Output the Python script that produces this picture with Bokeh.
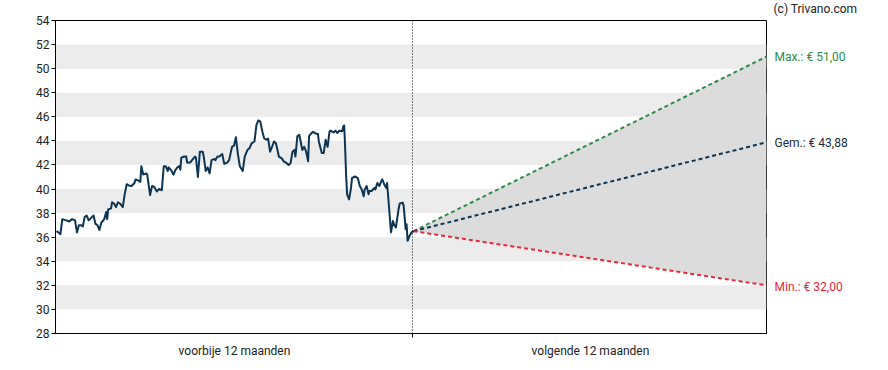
from bokeh.plotting import figure
from bokeh.models import Range1d, FixedTicker, BoxAnnotation, Span, ColumnDataSource, Title
from bokeh.layouts import row
from bokeh.core.properties import value
from bokeh.embed import file_html
from bokeh.resources import INLINE

# ---- data ----
past_days = [0, 2, 4, 6, 10, 13, 16, 19, 21, 23, 25, 27, 29, 31, 33, 38, 40, 42, 44, 46,
             49, 51, 52, 53, 56, 57, 59, 61, 63, 65, 68, 70, 72, 74, 77, 80, 81, 84, 86, 87,
             89, 92, 93, 96, 98, 100, 103, 105, 108, 110, 112, 114, 115, 118, 120, 122, 124, 126, 127, 128,
             131, 133, 134, 137, 139, 142, 143, 145, 147, 150, 151, 153, 155, 157, 159, 162, 163, 165, 167, 170,
             172, 175, 177, 180, 182, 184, 186, 188, 191, 193, 196, 198, 200, 203, 205, 207, 209, 211, 213, 215,
             217, 219, 221, 223, 225, 227, 228, 231, 233, 236, 238, 240, 242, 244, 245, 247, 249, 250, 252, 254,
             256, 258, 259, 261, 263, 266, 268, 269, 272, 274, 276, 278, 280, 281, 284, 286, 288, 290, 293, 294,
             295, 296, 297, 298, 300, 302, 303, 306, 309, 311, 313, 315, 316, 318, 320, 321, 323, 326, 327, 329,
             331, 333, 334, 336, 338, 339, 341, 343, 345, 346, 348, 349, 351, 352, 355, 356, 358, 359, 360, 362,
             364, 366]
past_price = [36.5, 36.4, 36.25, 37.5, 37.4, 37.3, 37.5, 37.4, 36.4, 37.0, 37.0, 36.9, 37.7, 37.8, 37.4, 37.8, 37.1, 37.0, 36.6, 37.2,
              37.5, 38.1, 37.5, 38.3, 38.4, 38.9, 38.8, 38.5, 38.9, 38.8, 38.5, 39.6, 40.4, 40.3, 40.25, 40.5, 40.8, 40.7, 40.6, 41.9,
              41.2, 41.3, 41.2, 39.5, 40.25, 40.2, 39.8, 40.0, 39.9, 41.9, 41.9, 41.5, 41.8, 41.5, 41.2, 41.6, 41.8, 41.9, 41.6, 42.6,
              42.7, 42.7, 42.2, 42.2, 42.4, 42.7, 42.6, 41.0, 43.1, 43.1, 42.7, 41.5, 41.8, 41.3, 42.4, 42.5, 42.4, 42.7, 42.7, 42.9,
              42.1, 42.2, 42.4, 43.5, 43.6, 44.3, 42.9, 41.9, 41.5, 42.7, 43.27, 43.4, 43.8, 43.95, 45.3, 45.7, 45.6, 44.8, 44.2, 44.1,
              44.2, 43.1, 43.5, 43.95, 43.8, 43.1, 42.7, 42.55, 42.3, 42.15, 42.0, 42.15, 43.1, 43.25, 42.7, 44.4, 44.5, 44.1, 43.25, 43.5,
              43.1, 42.3, 44.4, 44.6, 44.75, 44.6, 44.6, 43.95, 43.0, 43.0, 44.1, 43.5, 44.8, 44.85, 44.7, 44.85, 44.65, 44.85, 44.8, 45.2,
              45.28, 43.4, 41.07, 39.56, 39.14, 40.1, 40.9, 41.05, 40.9, 40.25, 39.97, 39.4, 39.97, 40.25, 39.56, 39.84, 39.84, 40.1, 39.97, 40.5,
              40.25, 40.65, 40.8, 40.4, 40.1, 40.5, 38.45, 36.4, 37.35, 37.08, 36.8, 37.35, 38.45, 38.8, 38.87, 38.6, 36.67, 37.08, 35.7, 36.1,
              36.4, 36.5]

today_day = 365
horizon_day = 728
start_price = 36.5
target_max = 51.00
target_avg = 43.88
target_min = 32.00

y_ticks = list(range(28, 55, 2))
band_bottoms = [30, 34, 38, 42, 46, 50]
period_labels = ["voorbije 12 maanden", "volgende 12 maanden"]
period_centers = [182.5, 547.5]
target_texts = ["Max.: € 51,00", "Gem.: € 43,88", "Min.: € 32,00"]
target_values = [target_max, target_avg, target_min]
credit_text = "(c) Trivano.com"

FONT = "Roboto"
NAVY = "#0d3553"
GREEN = "#2f8c4a"
RED = "#e8283c"

H = 360
TOP = 20
BOTTOM = 25
Y0, Y1 = 28, 54
px_per_unit = (H - TOP - BOTTOM) / (Y1 - Y0)

p = figure(width=768, height=H, output_backend="svg", toolbar_location=None,
           x_range=Range1d(-1, horizon_day), y_range=Range1d(Y0, Y1),
           min_border_left=55, min_border_right=2, min_border_top=TOP, min_border_bottom=BOTTOM)
p.background_fill_color = "white"
p.border_fill_color = "white"
p.outline_line_color = "black"
p.outline_line_width = 1
p.xgrid.visible = False
p.ygrid.visible = False

for b in band_bottoms:
    p.add_layout(BoxAnnotation(bottom=b, top=b + 2, fill_color="#ececec", fill_alpha=1.0,
                               line_color=None, level="underlay"))

# forecast fan
p.patch([today_day + 1, horizon_day, horizon_day], [start_price, target_max, target_min],
        fill_color="#dcdcdc", line_color=None)

for tv, col in zip(target_values, [GREEN, NAVY, RED]):
    p.line([today_day + 1, horizon_day], [start_price, tv], line_color=col,
           line_width=2, line_dash="4 3")

p.add_layout(Span(location=today_day, dimension="height", line_color="black",
                  line_width=1, line_dash="1 2"))

p.line(past_days, past_price, line_color=NAVY, line_width=2, line_join="round")

# axes
p.yaxis.ticker = FixedTicker(ticks=y_ticks)
p.yaxis.major_label_text_font = FONT
p.yaxis.major_label_text_font_size = "12px"
p.yaxis.major_label_text_color = "#222222"
p.yaxis.major_tick_out = 4
p.yaxis.major_tick_in = 0
p.yaxis.minor_tick_out = 0
p.yaxis.minor_tick_in = 0
p.yaxis.major_label_standoff = 2
p.yaxis.axis_line_color = "black"

p.xaxis.ticker = FixedTicker(ticks=period_centers, minor_ticks=[today_day])
p.xaxis.major_label_overrides = {period_centers[0]: period_labels[0],
                                 period_centers[1]: period_labels[1]}
p.xaxis.major_label_text_font = FONT
p.xaxis.major_label_text_font_size = "12px"
p.xaxis.major_label_text_color = "#222222"
p.xaxis.major_tick_out = 0
p.xaxis.major_tick_in = 0
p.xaxis.minor_tick_out = 4
p.xaxis.minor_tick_in = 0
p.xaxis.minor_tick_line_color = "black"
p.xaxis.major_label_standoff = 6
p.xaxis.axis_line_color = "black"

# side panel with target labels and credit
unaligned = True
try:
    p.frame_align = False
except Exception:
    unaligned = False

p2 = figure(width=112, height=H, output_backend="svg", toolbar_location=None, title=None,
            x_range=Range1d(0, 112),
            y_range=Range1d(Y0, Y1 + TOP / px_per_unit) if unaligned else Range1d(Y0, Y1),
            min_border_left=0, min_border_right=0,
            min_border_top=0 if unaligned else TOP, min_border_bottom=BOTTOM)
if unaligned:
    p2.frame_align = False
p2.outline_line_color = None
p2.axis.visible = False
p2.grid.visible = False
p2.background_fill_color = "white"
p2.border_fill_color = "white"

src = ColumnDataSource(dict(x=[6, 6, 6], y=target_values, text=target_texts,
                            color=[GREEN, "#1a2a3a", RED]))
p2.text(x="x", y="y", text="text", text_color="color", source=src,
        text_font=value(FONT), text_font_size="12px", text_baseline="middle", text_align="left")
if unaligned:
    p2.text(x=[5], y=[Y1 + 12 / px_per_unit], text=[credit_text], text_color="#222222",
            text_font=value(FONT), text_font_size="12px", text_baseline="middle", text_align="left")
else:
    p2.title = Title(text=credit_text, text_font=FONT, text_font_size="12px",
                     text_font_style="normal", text_color="#222222", align="left",
                     offset=5, standoff=2)

layout = row(p, p2, spacing=0)
open("out.html", "w").write(file_html(layout, INLINE))
